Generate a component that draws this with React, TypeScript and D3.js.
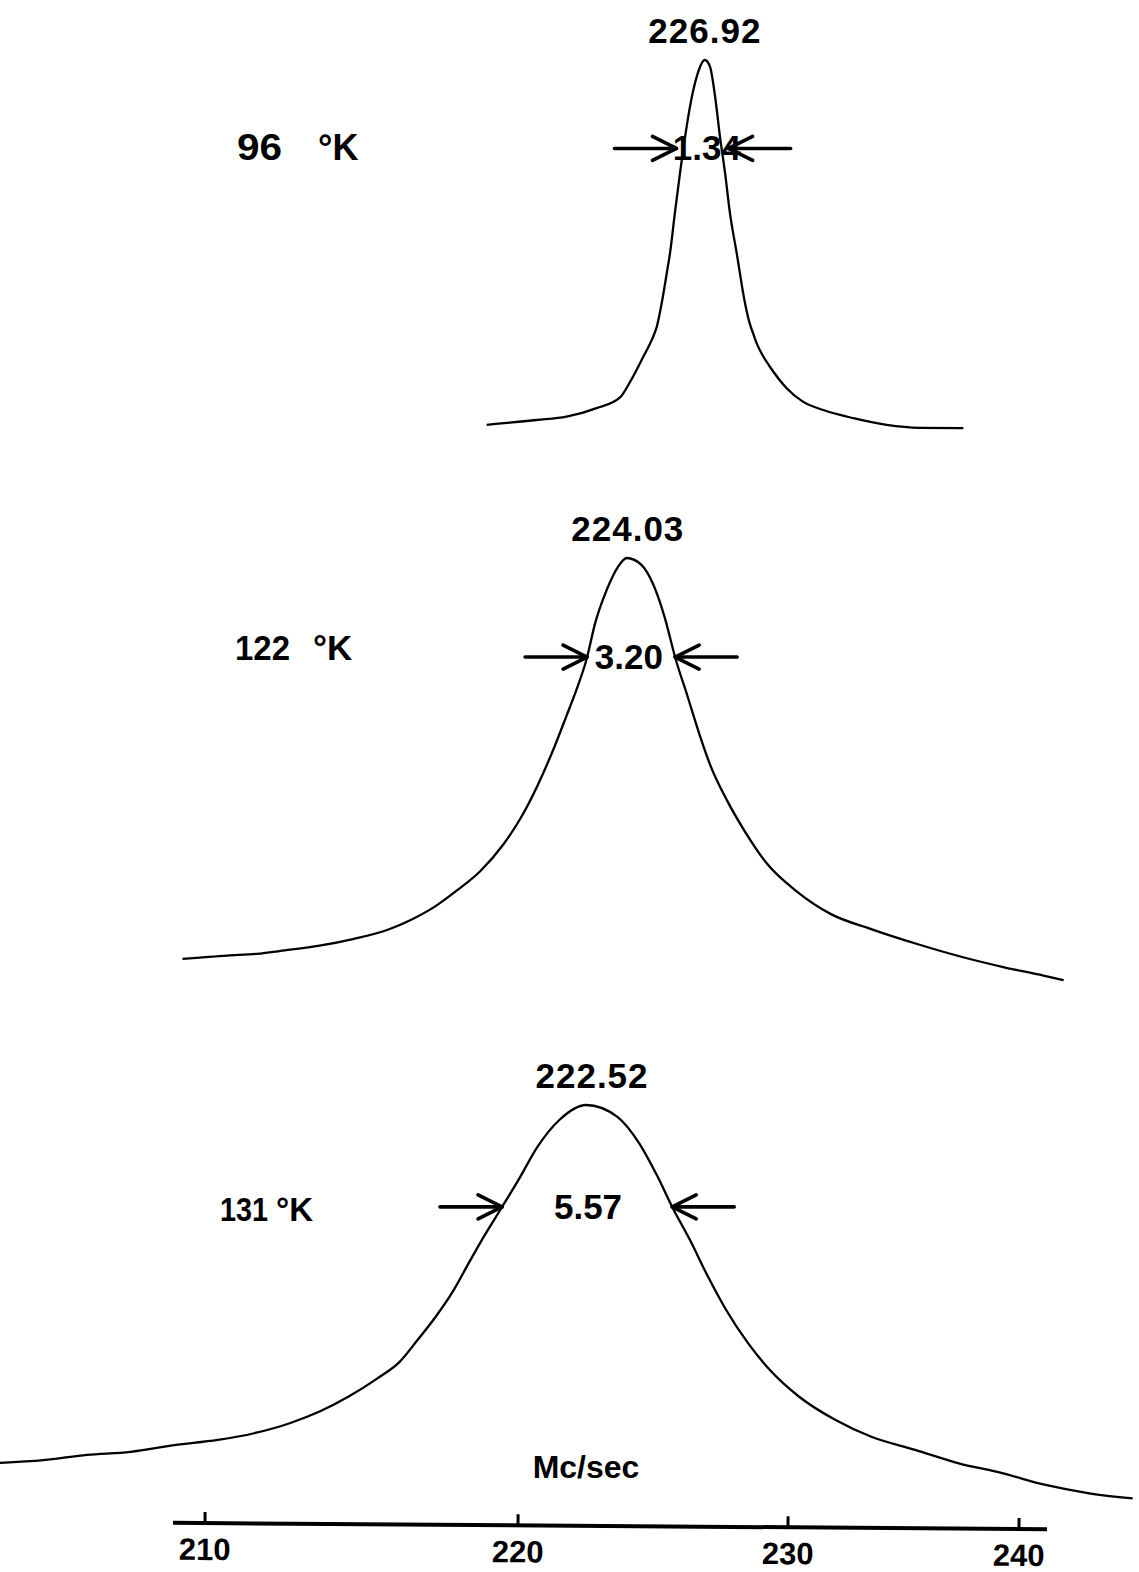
import React from "react";
import * as d3 from "d3";

const W = 1139;
const H = 1572;

// Frequency axis, Mc/sec. The sweep is not linear in frequency, so the
// scale is piecewise linear between the calibrated marks.
const axisTicks = [210, 220, 230, 240];
const axisPixels = [205, 518, 788, 1019];

// One recorded line per temperature
const temperaturesK = [96, 122, 131];
const peakFreqs = [226.92, 224.03, 222.52];
const lineWidths = [1.34, 3.2, 5.57];

// Trace readings: [frequency Mc/sec, signal (peak = 100)]
const rise96: [number, number][] = [
  [219.0, 1.4], [219.74, 2.0], [220.69, 2.7], [221.8, 3.6], [222.91, 5.9],
  [223.78, 8.8], [224.15, 13.0], [224.64, 19.8], [224.95, 24.3], [225.14, 27.9],
  [225.32, 34.2], [225.51, 42.4], [225.63, 47.8], [225.81, 58.6], [226.0, 69.4],
  [226.19, 79.3], [226.37, 87.4], [226.62, 95.5],
];
const fall96: [number, number][] = [
  [227.11, 98.2], [227.3, 90.1], [227.48, 79.3], [227.67, 69.4], [227.85, 58.6],
  [228.1, 47.8], [228.41, 34.2], [228.59, 28.6], [228.71, 26.1], [228.84, 23.4],
  [229.09, 19.8], [229.33, 17.1], [229.95, 11.3], [230.66, 7.6], [231.53, 5.4],
  [232.83, 3.2], [234.27, 1.4], [235.71, 0.6], [237.59, 0.5],
];

const rise122: [number, number][] = [
  [209.28, 6.1], [210.72, 6.9], [211.64, 7.3], [212.55, 8.1], [213.66, 9.2],
  [214.76, 10.8], [215.86, 13.0], [216.59, 15.3], [217.33, 18.3], [218.06, 22.2],
  [218.8, 26.7], [219.53, 32.9], [220.1, 39.1], [220.73, 46.8], [221.37, 56.1],
  [221.8, 63.1], [222.22, 70.1], [222.54, 76.3], [222.86, 84.8], [223.29, 92.6],
  [223.71, 98.0],
];
const fall122: [number, number][] = [
  [224.57, 98.4], [224.99, 94.1], [225.42, 86.4], [225.84, 76.3], [226.27, 67.8],
  [226.69, 59.3], [227.12, 51.5], [227.76, 43.0], [228.4, 36.0], [229.25, 28.2],
  [230.36, 22.0], [231.86, 16.6], [233.6, 13.1], [235.59, 9.6], [237.58, 6.5],
  [239.32, 4.2], [241.06, 2.2], [241.93, 1.1],
];

const rise131: [number, number][] = [
  [203.45, 9.4], [204.84, 10.1], [206.23, 11.4], [207.62, 12.2], [209.02, 13.9],
  [210.41, 15.2], [211.57, 16.9], [212.73, 19.5], [213.66, 22.4], [214.59, 26.2],
  [215.51, 30.8], [216.21, 34.9], [216.79, 40.5], [217.37, 46.4], [217.95, 53.2],
  [218.42, 59.9], [218.88, 66.3], [219.46, 73.8], [220.04, 81.3], [220.72, 89.4],
  [221.53, 96.2],
];
const fall131: [number, number][] = [
  [223.68, 97.0], [224.49, 90.3], [225.16, 82.0], [225.74, 73.8], [226.37, 65.8],
  [227.04, 56.5], [227.71, 48.1], [228.52, 39.7], [229.33, 32.9], [230.47, 26.2],
  [232.04, 20.3], [233.61, 16.0], [235.5, 12.7], [237.39, 9.3], [239.27, 6.8],
  [241.15, 3.8], [243.04, 1.7], [244.92, 0.4],
];

// Signal level at which each width is marked
const arrowLevels = [76.1, 76.8, 74.2];

const PEAK = 100;
const traces = [
  [...rise96, [peakFreqs[0], PEAK] as [number, number], ...fall96],
  [...rise122, [peakFreqs[1], PEAK] as [number, number], ...fall122],
  [...rise131, [peakFreqs[2], PEAK] as [number, number], ...fall131],
];

// Vertical placement of each recording (baseline, top)
const panelRanges: [number, number][] = [
  [430, 60],
  [985, 558],
  [1500, 1105],
];
const arrowGap = [7, 0, 0];
const peakLabelDx = [0, 1, 6];
// temperature label: x of the number, its drawn width, x of "°K", font size, baseline offset
const tempNumX = [237, 235, 220];
const tempNumW = [45, 55, 48];
const tempUnitX = [318, 313, 276];
const tempLabelSize = [36, 35, 33];
const tempLabelDy = [12, 3, 14];

const FONT = "'Liberation Sans', Arial, sans-serif";

function crossing(pts: [number, number][], level: number, peakIdx: number, side: "rise" | "fall") {
  if (side === "rise") {
    for (let i = peakIdx; i > 0; i--) {
      const [f1, a1] = pts[i - 1];
      const [f2, a2] = pts[i];
      if (a1 <= level && a2 >= level) return f1 + ((level - a1) / (a2 - a1)) * (f2 - f1);
    }
  } else {
    for (let i = peakIdx; i < pts.length - 1; i++) {
      const [f1, a1] = pts[i];
      const [f2, a2] = pts[i + 1];
      if (a1 >= level && a2 <= level) return f1 + ((a1 - level) / (a1 - a2)) * (f2 - f1);
    }
  }
  return pts[peakIdx][0];
}

function Arrow({ tip, y, dir }: { tip: number; y: number; dir: 1 | -1 }) {
  // dir = 1 points right, -1 points left
  const shaft = 62;
  const headX = 24;
  const headY = 12;
  return (
    <g stroke="#000" strokeWidth={3.6} fill="none" strokeLinecap="round" strokeLinejoin="round">
      <line x1={tip - dir * shaft} y1={y} x2={tip} y2={y} />
      <polyline points={`${tip - dir * headX},${y - headY} ${tip},${y} ${tip - dir * headX},${y + headY}`} />
    </g>
  );
}

export default function App() {
  const x = d3.scaleLinear().domain(axisTicks).range(axisPixels);

  return (
    <svg
      width={W}
      height={H}
      viewBox={`0 0 ${W} ${H}`}
      style={{ position: "absolute", left: 0, top: 0, display: "block", background: "#fff" }}
    >
      <rect x={0} y={0} width={W} height={H} fill="#fff" />
      {traces.map((pts, i) => {
        const y = d3.scaleLinear().domain([0, 100]).range(panelRanges[i]);
        const line = d3
          .line<[number, number]>()
          .x((d) => x(d[0]))
          .y((d) => y(d[1]))
          .curve(d3.curveMonotoneX);
        const peakIdx = pts.findIndex((p) => p[0] === peakFreqs[i]);
        const ay = y(arrowLevels[i]);
        const lf = crossing(pts, arrowLevels[i], peakIdx, "rise");
        const rf = crossing(pts, arrowLevels[i], peakIdx, "fall");
        const px = x(peakFreqs[i]);
        return (
          <g key={temperaturesK[i]}>
            <path d={line(pts) ?? ""} fill="none" stroke="#000" strokeWidth={2.3} strokeLinejoin="round" />
            <text
              x={px + peakLabelDx[i]}
              y={y(PEAK) - 17}
              textAnchor="middle"
              fontFamily={FONT}
              fontWeight={700}
              fontSize={35}
              letterSpacing={1}
            >
              {peakFreqs[i].toFixed(2)}
            </text>
            <Arrow tip={x(lf) - arrowGap[i]} y={ay} dir={1} />
            <Arrow tip={x(rf) + arrowGap[i]} y={ay} dir={-1} />
            <text
              x={px + 2}
              y={ay + 12}
              textAnchor="middle"
              fontFamily={FONT}
              fontWeight={700}
              fontSize={35}
            >
              {lineWidths[i].toFixed(2)}
            </text>
            <text
              x={tempNumX[i]}
              y={ay + tempLabelDy[i]}
              fontFamily={FONT}
              fontWeight={700}
              fontSize={tempLabelSize[i]}
              textLength={tempNumW[i]}
              lengthAdjust="spacingAndGlyphs"
            >
              {temperaturesK[i]}
            </text>
            <text x={tempUnitX[i]} y={ay + tempLabelDy[i]} fontFamily={FONT} fontWeight={700} fontSize={tempLabelSize[i]}>
              °K
            </text>
          </g>
        );
      })}

      <text x={586} y={1478} textAnchor="middle" fontFamily={FONT} fontWeight={700} fontSize={32}>
        Mc/sec
      </text>

      <g transform="rotate(0.42 610 1526)">
        <line x1={173} y1={1526} x2={1047} y2={1526} stroke="#000" strokeWidth={4} />
        {axisTicks.map((t) => (
          <g key={t}>
            <line x1={x(t)} y1={1526} x2={x(t)} y2={1515} stroke="#000" strokeWidth={3} />
            <text x={x(t)} y={1563} textAnchor="middle" fontFamily={FONT} fontWeight={700} fontSize={31}>
              {t}
            </text>
          </g>
        ))}
      </g>
    </svg>
  );
}
